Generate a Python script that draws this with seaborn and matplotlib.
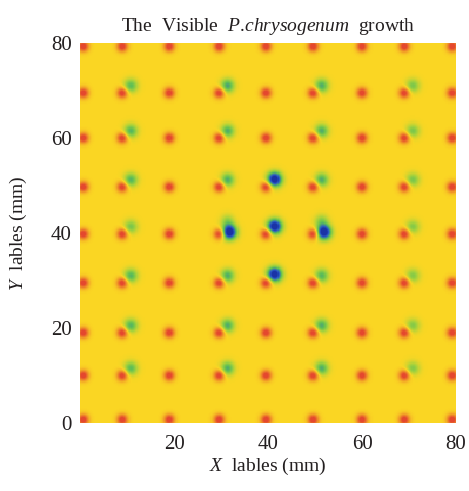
import numpy as np
import pandas as pd
import seaborn as sns
import matplotlib.pyplot as plt
from matplotlib.colors import LinearSegmentedColormap

# spot centres (mm)
red_x = [0.7, 9.0, 19.0, 29.6, 39.6, 49.6, 60.0, 69.0, 79.2]
red_y = [0.7, 10.0, 19.0, 29.5, 39.8, 49.7, 60.0, 69.5, 79.3]
red_level = 0.40

green_x = [10.8, 10.8, 10.8, 10.8, 10.8, 10.8, 10.8,
           31.4, 31.4, 31.4, 31.4, 31.4, 31.4, 31.4,
           51.4, 51.4, 51.4, 51.4, 51.4, 51.4, 51.4,
           70.8, 70.8, 70.8, 70.8, 70.8, 70.8, 70.8]
green_y = [11.5, 20.5, 31.0, 41.3, 51.2, 61.5, 71.0,
           11.5, 20.5, 31.0, 42.5, 51.2, 61.5, 71.0,
           11.5, 20.5, 31.0, 42.5, 51.2, 61.5, 71.0,
           11.5, 20.5, 31.0, 41.3, 51.2, 61.5, 71.0]
green_depth = [0.30, 0.32, 0.32, 0.24, 0.32, 0.32, 0.30,
               0.34, 0.34, 0.34, 0.18, 0.34, 0.34, 0.36,
               0.34, 0.34, 0.32, 0.20, 0.34, 0.34, 0.34,
               0.22, 0.22, 0.22, 0.22, 0.24, 0.24, 0.24]

blue_x = [31.8, 41.4, 41.4, 41.4, 51.9]
blue_y = [40.2, 31.3, 41.4, 51.3, 40.2]
blue_depth = [0.78, 0.76, 0.78, 0.76, 0.78]

background = 0.65
step = 0.25

# build the intensity field on a fine grid
xc = np.arange(0, 80, step) + step / 2
yc = (np.arange(0, 80, step) + step / 2)[::-1]
X, Y = np.meshgrid(xc, yc)


def blob(cx, cy, amp, sigma):
    cx = np.asarray(cx)[:, None, None]
    cy = np.asarray(cy)[:, None, None]
    amp = np.asarray(amp, dtype=float)[:, None, None]
    g = np.exp(-((X - cx) ** 2 + (Y - cy) ** 2) / (2 * sigma ** 2))
    return (amp * g).sum(axis=0)


rx, ry = np.meshgrid(red_x, red_y)
field = np.full(X.shape, background)
field += blob(rx.ravel(), ry.ravel(), np.full(rx.size, red_level), 0.8)
field -= blob(green_x, green_y, green_depth, 1.0)
field -= blob(blue_x, blue_y, blue_depth, 1.05)
field = np.clip(field, 0, 1)
field_df = pd.DataFrame(field, index=yc, columns=xc)

cmap = LinearSegmentedColormap.from_list(
    "growth",
    [(0.0, "#1a33a6"), (0.15, "#2a5cc4"), (0.36, "#5fbf55"),
     (0.5, "#a6d23c"), (0.65, "#fad623"), (1.0, "#e4482e")])

plt.rcParams['font.family'] = ['Liberation Serif']
plt.rcParams['mathtext.fontset'] = 'custom'
plt.rcParams['mathtext.rm'] = 'Liberation Serif'
plt.rcParams['mathtext.it'] = 'Liberation Serif:italic'

fig = plt.figure(figsize=(4.69, 4.91), dpi=100)
ax = fig.add_axes([0.1706, 0.1385, 0.8017, 0.7739])
sns.heatmap(field_df, cmap=cmap, vmin=0, vmax=1, cbar=False,
            xticklabels=False, yticklabels=False, ax=ax, rasterized=True)

n = len(xc)
xt = [20, 40, 60, 80]
yt = [0, 20, 40, 60, 80]
ax.set_xticks([v / step for v in xt])
ax.set_xticklabels([str(v) for v in xt], rotation=0)
ax.set_yticks([n - v / step for v in yt])
ax.set_yticklabels([str(v) for v in yt], rotation=0)
ax.tick_params(length=0, labelsize=15, colors='#231f20')
ax.tick_params(axis='x', pad=9)
ax.tick_params(axis='y', pad=6)

ax.set_title(r"The  Visible  $\mathit{P.\!chrysogenum}$  growth",
             fontsize=14, pad=9, color='#231f20')
ax.set_xlabel(r"$\mathit{X}$  lables (mm)", fontsize=14, labelpad=1, color='#231f20')
ax.set_ylabel(r"$\mathit{Y}$  lables (mm)", fontsize=14, labelpad=16, color='#231f20')

fig.savefig("out.png", dpi=100)
